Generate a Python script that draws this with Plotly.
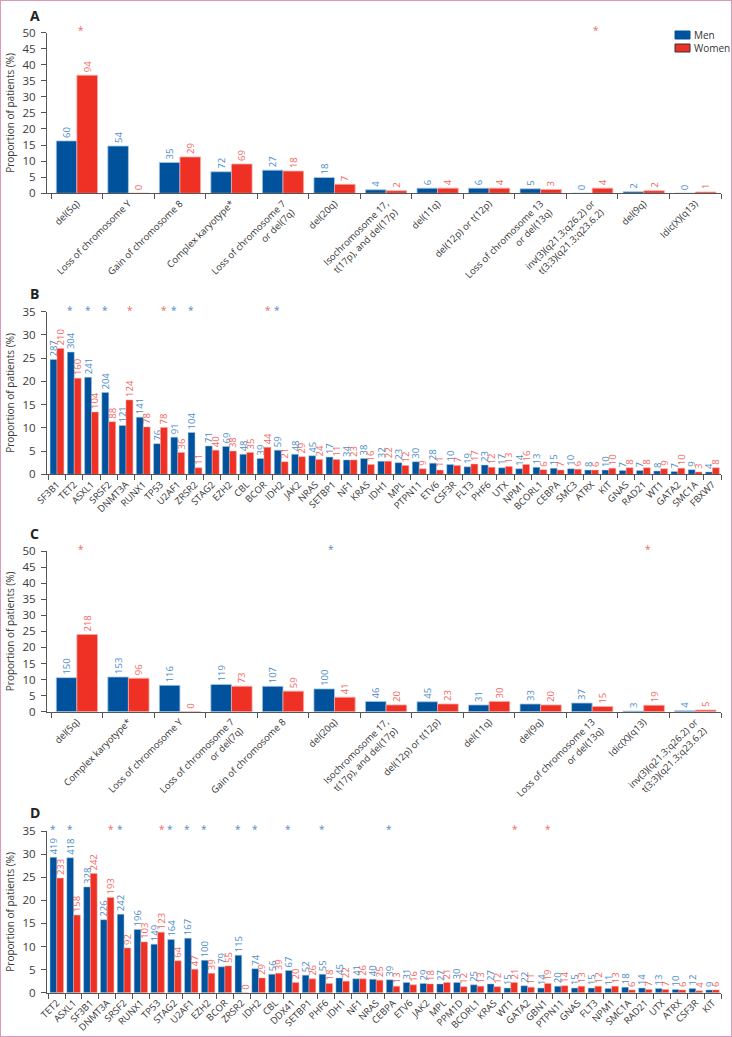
import plotly.graph_objects as go

# ---------------- dados ----------------
# Painel A: anomalias citogenéticas (cohort 1)
cat_a = ["del(5q)", "Loss of chromosome Y", "Gain of chromosome 8", "Complex karyotype*",
         "Loss of chromosome 7<br>or del(7q)", "del(20q)",
         "Isochromosome 17,<br>t(17p), and del(17p)", "del(11q)", "del(12p) or t(12p)",
         "Loss of chromosome 13<br>or del(13q)", "inv(3)(q21.3;q26.2) or<br>t(3;3)(q21.3;q23.6.2)",
         "del(9q)", "Idic(X)(q13)"]
men_a = [16.3, 14.7, 9.6, 6.7, 7.2, 4.9, 1.1, 1.6, 1.6, 1.4, 0, 0.5, 0]
women_a = [36.7, 0, 11.3, 9.1, 6.9, 2.8, 0.8, 1.6, 1.6, 1.2, 1.6, 0.8, 0.4]
n_men_a = [60, 54, 35, 72, 27, 18, 4, 6, 6, 5, 0, 2, 0]
n_women_a = [94, 0, 29, 69, 18, 7, 2, 4, 4, 3, 4, 2, 1]
ast_a = [(0, "w"), (10, "w")]

# Painel B: mutações (cohort 1)
cat_b = ["SF3B1", "TET2", "ASXL1", "SRSF2", "DNMT3A", "RUNX1", "TP53", "U2AF1", "ZRSR2",
         "STAG2", "EZH2", "CBL", "BCOR", "IDH2", "JAK2", "NRAS", "SETBP1", "NF1", "KRAS",
         "IDH1", "MPL", "PTPN11", "ETV6", "CSF3R", "FLT3", "PHF6", "UTX", "NPM1", "BCORL1",
         "CEBPA", "SMC3", "ATRX", "KIT", "GNAS", "RAD21", "WT1", "GATA2", "SMC1A", "FBXW7"]
men_b = [24.7, 26.3, 20.9, 17.6, 10.5, 12.3, 6.6, 8.0, 9.0, 6.1, 6.0, 4.3, 3.4, 5.2, 4.3,
         4.0, 3.7, 3.1, 3.4, 2.8, 2.5, 2.7, 2.4, 2.1, 1.6, 2.0, 1.4, 1.2, 1.5, 1.3, 1.2,
         0.9, 0.9, 0.8, 0.8, 0.7, 0.6, 1.0, 0.5]
women_b = [27.1, 20.7, 13.4, 11.3, 16.0, 10.2, 10.1, 4.7, 1.4, 5.2, 5.0, 4.7, 5.8, 2.7, 3.8,
           3.2, 3.2, 3.1, 2.1, 2.8, 1.9, 1.2, 0.9, 1.9, 2.2, 1.5, 1.7, 2.1, 1.0, 0.9, 1.1,
           0.9, 1.3, 1.4, 1.4, 1.2, 1.3, 0.5, 1.4]
n_men_b = [287, 304, 241, 204, 121, 141, 76, 91, 104, 71, 69, 48, 39, 59, 48, 45, 17, 34, 38,
           32, 23, 30, 28, 10, 19, 23, 17, 14, 13, 15, 10, 8, 10, 7, 7, 8, 7, 9, 4]
n_women_b = [210, 160, 104, 88, 124, 78, 78, 36, 11, 40, 38, 35, 44, 21, 29, 24, 11, 23, 16,
             22, 12, 9, 11, 7, 17, 12, 13, 16, 6, 7, 6, 6, 10, 8, 8, 9, 10, 3, 8]
ast_b = [(1, "m"), (2, "m"), (3, "m"), (4, "w"), (6, "w"), (7, "m"), (8, "m"), (12, "w"), (13, "m")]

# Painel C: anomalias citogenéticas (cohort 2)
cat_c = ["del(5q)", "Complex karyotype*", "Loss of chromosome Y",
         "Loss of chromosome 7<br>or del(7q)", "Gain of chromosome 8", "del(20q)",
         "Isochromosome 17,<br>t(17p), and del(17p)", "del(12p) or t(12p)", "del(11q)",
         "del(9q)", "Loss of chromosome 13<br>or del(13q)", "Idic(X)(q13)",
         "inv(3)(q21.3;q26.2) or<br>t(3;3)(q21.3;q23.6.2)"]
men_c = [10.6, 10.8, 8.2, 8.5, 7.9, 7.1, 3.2, 3.1, 2.1, 2.4, 2.7, 0.2, 0.3]
women_c = [24.0, 10.4, 0, 7.9, 6.4, 4.5, 2.1, 2.4, 3.2, 2.1, 1.6, 2.0, 0.5]
n_men_c = [150, 153, 116, 119, 107, 100, 46, 45, 31, 33, 37, 3, 4]
n_women_c = [218, 96, 0, 73, 59, 41, 20, 23, 30, 20, 15, 19, 5]
ast_c = [(0, "w"), (5, "m"), (11, "w")]

# Painel D: mutações (cohort 2)
cat_d = ["TET2", "ASXL1", "SF3B1", "DNMT3A", "SRSF2", "RUNX1", "TP53", "STAG2", "U2AF1",
         "EZH2", "BCOR", "ZRSR2", "IDH2", "CBL", "DDX41", "SETBP1", "PHF6", "IDH1", "NF1",
         "NRAS", "CEBPA", "ETV6", "JAK2", "MPL", "PPM1D", "BCORL1", "KRAS", "WT1", "GATA2",
         "GBN1", "PTPN11", "GNAS", "FLT3", "NPM1", "SMC1A", "RAD21", "UTX", "ATRX", "CSF3R", "KIT"]
men_d = [29.3, 29.2, 22.9, 15.8, 17.0, 13.7, 10.5, 11.5, 11.8, 7.0, 5.6, 8.1, 5.2, 4.0, 4.8,
         3.8, 4.0, 3.2, 3.0, 2.9, 2.8, 2.2, 2.0, 1.9, 2.2, 1.7, 1.9, 1.0, 1.5, 1.0, 1.4, 1.0,
         1.0, 0.9, 1.2, 1.0, 0.9, 0.7, 0.9, 0.6]
women_d = [24.8, 16.8, 25.8, 20.6, 9.7, 11.0, 13.1, 6.9, 5.1, 4.2, 5.8, 0, 3.2, 4.2, 2.2,
           3.0, 2.0, 2.5, 3.0, 2.7, 1.4, 1.7, 1.9, 2.2, 1.3, 1.4, 1.3, 2.2, 1.2, 2.0, 1.5, 1.4,
           1.4, 1.4, 0.6, 0.7, 0.7, 0.6, 0.4, 0.6]
n_men_d = [419, 418, 328, 226, 242, 196, 149, 164, 167, 100, 79, 115, 74, 56, 67, 52, 55, 45,
           41, 40, 39, 31, 29, 27, 30, 25, 27, 15, 22, 14, 20, 15, 15, 11, 18, 14, 13, 10, 12, 9]
n_women_d = [233, 158, 242, 193, 92, 103, 123, 64, 47, 39, 55, 0, 29, 39, 20, 26, 18, 22, 26,
             25, 13, 16, 18, 21, 12, 13, 12, 21, 11, 19, 14, 13, 12, 13, 6, 7, 7, 6, 4, 6]
ast_d = [(0, "m"), (1, "m"), (3, "w"), (4, "m"), (6, "w"), (7, "m"), (8, "m"), (9, "m"),
         (11, "m"), (12, "m"), (14, "m"), (16, "m"), (20, "m"), (27, "w"), (29, "w")]

# ---------------- estilo ----------------
AZUL = "#00529c"
VERMELHO = "#ee3124"
AZUL_TXT = "#4d8cc9"
VERM_TXT = "#f4675f"
CINZA = "#555555"
W, H = 732, 1037

# paineis: (categorias, homens, mulheres, n homens, n mulheres, asteriscos, ymax, y0 px, ytop px, bargap, letra, y letra)
paineis = [
    (cat_a, men_a, women_a, n_men_a, n_women_a, ast_a, 50, 193.3, 32.5, 0.32, "A", 16),
    (cat_b, men_b, women_b, n_men_b, n_women_b, ast_b, 35, 474.3, 311.7, 0.2, "B", 293),
    (cat_c, men_c, women_c, n_men_c, n_women_c, ast_c, 50, 711.7, 551.0, 0.32, "C", 533),
    (cat_d, men_d, women_d, n_men_d, n_women_d, ast_d, 35, 992.7, 831.0, 0.25, "D", 812),
]

fig = go.Figure()
layout = dict(
    width=W, height=H,
    margin=dict(l=0, r=0, t=0, b=0, autoexpand=False),
    paper_bgcolor="white", plot_bgcolor="white",
    font=dict(family="Open Sans", color="#333333"),
    barmode="group",
    showlegend=False,
)
annotations = []
shapes = []

for i, (cats, men, women, nm, nw, asts, ymax, y0, ytop, gap, letra, ylet) in enumerate(paineis):
    k = "" if i == 0 else str(i + 1)
    xa, ya = "x" + k, "y" + k
    n = len(cats)
    lw = 0.8 if n < 20 else 0.5
    fig.add_trace(go.Bar(
        x=cats, y=men, name="Men", xaxis=xa, yaxis=ya,
        marker=dict(color=AZUL, line=dict(color="#a9c8e8", width=lw)),
        text=[str(v) for v in nm], textposition="outside", textangle=-90,
        textfont=dict(size=9.5, color=AZUL_TXT), constraintext="none", cliponaxis=False,
    ))
    fig.add_trace(go.Bar(
        x=cats, y=women, name="Women", xaxis=xa, yaxis=ya,
        marker=dict(color=VERMELHO, line=dict(color="#f6aaa5", width=lw)),
        text=[str(v) for v in nw], textposition="outside", textangle=-90,
        textfont=dict(size=9.5, color=VERM_TXT), constraintext="none", cliponaxis=False,
    ))

    layout["xaxis" + k] = dict(
        type="category", domain=[47 / W, 721 / W], anchor=ya, automargin=False,
        range=[-0.58, n - 0.5], tickson="boundaries",
        ticks="outside", ticklen=5, tickcolor=CINZA,
        showline=True, linecolor=CINZA, linewidth=1,
        tickangle=-45, tickfont=dict(size=9.5, color="#333333"),
        showgrid=False, zeroline=False,
    )
    layout["yaxis" + k] = dict(
        domain=[1 - y0 / H, 1 - ytop / H], anchor=xa, automargin=False,
        range=[0, ymax], dtick=5, ticks="outside", ticklen=5, tickcolor=CINZA,
        ticklabelstandoff=3,
        showline=True, linecolor=CINZA, linewidth=1,
        tickfont=dict(size=11.5, color="#3a3a3a"),
        title=dict(text="Proportion of patients (%)", font=dict(size=10, color="#3a3a3a"),
                   standoff=6),
        showgrid=False, zeroline=False,
    )

    # letra do painel
    annotations.append(dict(
        text="<b>" + letra + "</b>", x=28 / W, y=1 - ylet / H, xref="paper", yref="paper",
        xanchor="left", yanchor="middle", showarrow=False,
        font=dict(size=14, color="#222222"),
    ))
    # asteriscos de significância
    for idx, sexo in asts:
        annotations.append(dict(
            text="*", x=idx, y=ymax, xref=xa, yref=ya,
            xshift=4 if sexo == "w" else -4, yshift=2,
            showarrow=False, yanchor="middle",
            font=dict(size=10, color=VERM_TXT if sexo == "w" else AZUL_TXT),
        ))

# legenda manual (Men / Women)
for j, (nome, cor, borda) in enumerate([("Men", AZUL, AZUL), ("Women", VERMELHO, "#333333")]):
    ytop_px = 31 + j * 13
    shapes.append(dict(type="rect", xref="paper", yref="paper",
                       x0=675 / W, x1=690 / W, y0=1 - (ytop_px + 8) / H, y1=1 - ytop_px / H,
                       fillcolor=cor, line=dict(color=borda, width=1)))
    annotations.append(dict(text=nome, x=692 / W, y=1 - (ytop_px + 4) / H,
                            xref="paper", yref="paper", xanchor="left", yanchor="middle",
                            showarrow=False, font=dict(size=10, color="#333333")))

shapes.append(dict(type="rect", xref="paper", yref="paper", x0=0, y0=0, x1=1, y1=1,
                   line=dict(color="#dc9ab9", width=2)))
layout["annotations"] = annotations
layout["shapes"] = shapes
fig.update_layout(**layout)

# tira a margem padrão do <body> para a figura ocupar a janela toda
fig.write_html("out.html", config={"displayModeBar": False},
               post_script="document.body.style.margin='0';")
